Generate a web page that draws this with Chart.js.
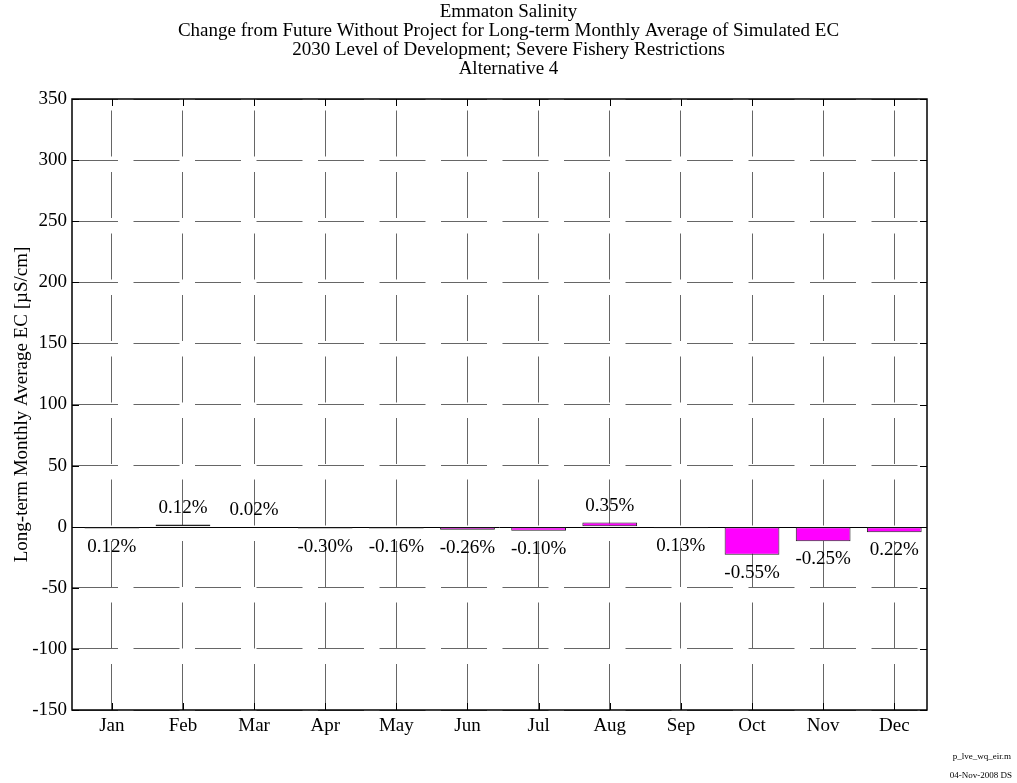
<!DOCTYPE html>
<html>
<head>
<meta charset="utf-8">
<script src="https://cdn.jsdelivr.net/npm/chart.js@4.4.0/dist/chart.umd.min.js"></script>
<style>
  html, body { margin: 0; padding: 0; background: #fff; }
  #wrap { width: 1017px; height: 783px; }
</style>
</head>
<body>
<div id="wrap"><canvas id="ecChart" width="1017" height="783"></canvas></div>
<script>
// data
const months = ['Jan', 'Feb', 'Mar', 'Apr', 'May', 'Jun', 'Jul', 'Aug', 'Sep', 'Oct', 'Nov', 'Dec'];
const ecChange = [-1.5, 1.8, 0.3, -1.5, -1.5, -2.5, -3.3, 3.5, -1.2, -23, -12, -4.6];
const pctLabels = ['0.12%', '0.12%', '0.02%', '-0.30%', '-0.16%', '-0.26%', '-0.10%', '0.35%', '0.13%', '-0.55%', '-0.25%', '0.22%'];
const titleLines = [
    'Emmaton Salinity',
    'Change from Future Without Project for Long-term Monthly Average of Simulated EC',
    '2030 Level of Development; Severe Fishery Restrictions',
    'Alternative 4'
];
const yTitle = 'Long-term Monthly Average EC [\u00b5S/cm]';
const footLines = ['p_lve_wq_eir.m', '04-Nov-2008 DS'];

const SERIF = "'Liberation Serif', 'Times New Roman', serif";

// bar values printed as % above / below each bar
const pctLabelPlugin = {
    id: 'pctLabels',
    afterDatasetsDraw(chart) {
        const ctx = chart.ctx;
        const meta = chart.getDatasetMeta(0);
        ctx.save();
        ctx.font = '19px ' + SERIF;
        ctx.fillStyle = '#000';
        ctx.textAlign = 'center';
        ctx.textBaseline = 'middle';
        meta.data.forEach((bar, i) => {
            const up = ecChange[i] >= 0;
            const y = up ? Math.min(bar.y, bar.base) - 16 : Math.max(bar.y, bar.base) + 18;
            ctx.fillText(pctLabels[i], bar.x, y);
        });
        ctx.restore();
    }
};

// matlab style frame: solid zero line, box, inward ticks, footer text
const framePlugin = {
    id: 'frame',
    beforeDatasetsDraw(chart) {
        const { ctx, chartArea: a, scales } = chart;
        const y0 = scales.y.getPixelForValue(0);
        ctx.save();
        ctx.strokeStyle = '#000';
        ctx.lineWidth = 1;
        ctx.beginPath();
        ctx.moveTo(a.left, Math.round(y0) + 0.5);
        ctx.lineTo(a.right, Math.round(y0) + 0.5);
        ctx.stroke();
        ctx.restore();
    },
    afterDraw(chart) {
        const { ctx, chartArea: a, scales } = chart;
        ctx.save();
        ctx.strokeStyle = '#000';
        ctx.lineWidth = 1;
        const tl = 7;
        ctx.beginPath();
        scales.y.ticks.forEach(t => {
            const py = Math.round(scales.y.getPixelForValue(t.value)) + 0.5;
            ctx.moveTo(a.left, py); ctx.lineTo(a.left + tl, py);
            ctx.moveTo(a.right, py); ctx.lineTo(a.right - tl, py);
        });
        scales.x.ticks.forEach(t => {
            const px = Math.round(scales.x.getPixelForValue(t.value)) + 0.5;
            ctx.moveTo(px, a.bottom); ctx.lineTo(px, a.bottom - tl);
            ctx.moveTo(px, a.top); ctx.lineTo(px, a.top + tl);
        });
        ctx.stroke();
        ctx.lineWidth = 1.5;
        ctx.strokeRect(a.left, a.top, a.right - a.left, a.bottom - a.top);

        ctx.font = '9px ' + SERIF;
        ctx.fillStyle = '#000';
        ctx.textAlign = 'right';
        ctx.textBaseline = 'middle';
        ctx.fillText(footLines[0], chart.width - 6, 757);
        ctx.fillText(footLines[1], chart.width - 5, 776);
        ctx.restore();
    }
};

function renderChart() {
    const canvas = document.getElementById('ecChart');
    const ctx = canvas.getContext('2d');

    new Chart(ctx, {
        type: 'bar',
        data: {
            datasets: [{
                data: ecChange.map((v, i) => ({ x: i + 1, y: v })),
                backgroundColor: '#FF00FF',
                borderColor: '#222',
                borderWidth: 1,
                borderSkipped: false,
                barPercentage: 0.77,
                categoryPercentage: 1.0
            }]
        },
        options: {
            responsive: false,
            animation: false,
            devicePixelRatio: 1,
            layout: { padding: 0 },
            plugins: {
                legend: { display: false },
                tooltip: { enabled: false },
                title: {
                    display: true,
                    text: titleLines,
                    color: '#000',
                    font: { family: SERIF, size: 19, weight: 'normal', lineHeight: 1 },
                    padding: { top: 3, bottom: 20 }
                }
            },
            scales: {
                x: {
                    type: 'linear',
                    min: 0.44,
                    max: 12.46,
                    offset: false,
                    afterFit: s => { s.height = 73; },
                    grid: { offset: false, color: '#666', lineWidth: 1, drawTicks: false },
                    border: { display: false, dash: [46, 15.5], dashOffset: 50 },
                    ticks: {
                        stepSize: 1,
                        includeBounds: false,
                        autoSkip: false,
                        maxRotation: 0,
                        padding: 5,
                        color: '#000',
                        font: { family: SERIF, size: 19 },
                        callback: v => months[v - 1] || ''
                    }
                },
                y: {
                    min: -150,
                    max: 350,
                    afterFit: s => { s.width = 72; },
                    grid: {
                        color: c => (c.tick && c.tick.value === 0) ? 'rgba(0,0,0,0)' : '#666',
                        lineWidth: 1,
                        drawTicks: false
                    },
                    border: { display: false, dash: [46, 15.5], dashOffset: 0 },
                    ticks: {
                        stepSize: 50,
                        padding: 5,
                        color: '#000',
                        font: { family: SERIF, size: 19 }
                    },
                    title: {
                        display: true,
                        text: yTitle,
                        color: '#000',
                        font: { family: SERIF, size: 19 },
                        padding: { top: 11, bottom: 0 }
                    }
                },
                yRight: {
                    type: 'linear',
                    position: 'right',
                    display: true,
                    afterFit: s => { s.width = 90; },
                    grid: { display: false },
                    border: { display: false },
                    ticks: { display: false }
                }
            }
        },
        plugins: [pctLabelPlugin, framePlugin]
    });
}

document.addEventListener('DOMContentLoaded', renderChart);
</script>
</body>
</html>
